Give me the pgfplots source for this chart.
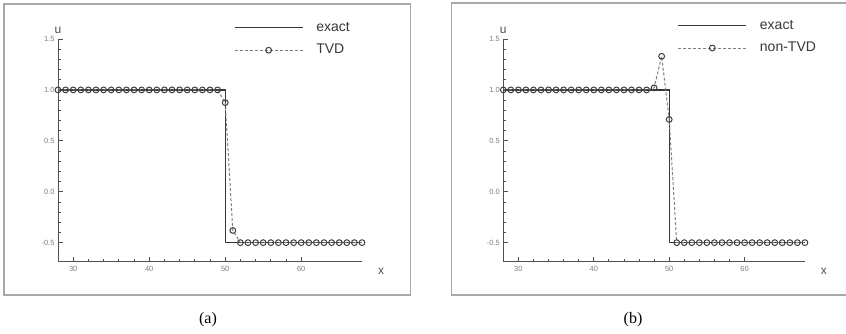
\documentclass[border=0pt]{standalone}
\usepackage{pgfplots}
\pgfplotsset{compat=1.18}
\usepackage{fontspec}
\setmainfont{Liberation Serif}
\newfontfamily\arial{Liberation Sans}

\definecolor{framec}{HTML}{A8A8A8}
\definecolor{axisc}{HTML}{505050}
\definecolor{exactc}{HTML}{383838}
\definecolor{numc}{HTML}{808080}
\definecolor{markc}{HTML}{404040}

% exact solution: the step
\pgfplotstableread{
x u
28 1.0
50 1.0
50 -0.5
68 -0.5
}\exact

% TVD scheme
\pgfplotstableread{
x u
28 1.0
29 1.0
30 1.0
31 1.0
32 1.0
33 1.0
34 1.0
35 1.0
36 1.0
37 1.0
38 1.0
39 1.0
40 1.0
41 1.0
42 1.0
43 1.0
44 1.0
45 1.0
46 1.0
47 1.0
48 1.0
49 1.0
50 0.875
51 -0.38
52 -0.5
53 -0.5
54 -0.5
55 -0.5
56 -0.5
57 -0.5
58 -0.5
59 -0.5
60 -0.5
61 -0.5
62 -0.5
63 -0.5
64 -0.5
65 -0.5
66 -0.5
67 -0.5
68 -0.5
}\tvd

% non-TVD scheme
\pgfplotstableread{
x u
28 1.0
29 1.0
30 1.0
31 1.0
32 1.0
33 1.0
34 1.0
35 1.0
36 1.0
37 1.0
38 1.0
39 1.0
40 1.0
41 1.0
42 1.0
43 1.0
44 1.0
45 1.0
46 1.0
47 1.0
48 1.02
49 1.33
50 0.71
51 -0.5
52 -0.5
53 -0.5
54 -0.5
55 -0.5
56 -0.5
57 -0.5
58 -0.5
59 -0.5
60 -0.5
61 -0.5
62 -0.5
63 -0.5
64 -0.5
65 -0.5
66 -0.5
67 -0.5
68 -0.5
}\nontvd

\pgfplotsset{
  panel/.style={
    scale only axis, anchor=south west,
    height=223pt,
    xmin=28, xmax=68, ymin=-0.69, ymax=1.5,
    axis x line*=bottom, axis y line*=left,
    axis line style={-, color=axisc, line width=1pt},
    xtick={30,40,50,60}, ytick={-0.5,0,0.5,1,1.5},
    minor x tick num=4, minor y tick num=4,
    tick align=inside, major tick length=4.5pt, minor tick length=2.5pt,
    tick style={color=axisc, line width=0.8pt},
    /pgf/number format/assume math mode=true,
    yticklabel style={/pgf/number format/.cd, fixed, fixed zerofill, precision=1},
    tick label style={font=\arial\fontsize{7.5}{8}\selectfont, color=numc},
    xticklabel style={yshift=-1pt},
    xlabel={x}, ylabel={u},
    every axis y label/.style={at={(axis description cs:0,1)}, anchor=south, yshift=2pt,
      font=\arial\fontsize{12}{13}\selectfont, color=axisc},
    every axis x label/.style={at={(axis description cs:1,0)}, anchor=center, xshift=19pt, yshift=-9pt,
      font=\arial\fontsize{12}{13}\selectfont, color=axisc},
    clip=false,
    legend cell align=left,
    legend image code/.code={
      \draw[mark repeat=2, mark phase=2, #1] plot coordinates {(0pt,0pt) (34pt,0pt) (68pt,0pt)};},
    legend style={draw=none, fill=none, inner sep=0pt, outer sep=0pt,
      font=\arial\fontsize{14}{15}\selectfont, text=exactc,
      row sep=9.5pt,
      nodes={inner sep=0pt, text height=10pt, text depth=3pt},
      /tikz/every odd column/.append style={column sep=13pt},
      at={(axis description cs:0.579,1)}, anchor=west},
  },
  exactline/.style={color=exactc, line width=1.3pt, mark=none},
  schemeline/.style={color=numc, line width=1pt, dash pattern=on 3pt off 2pt,
    mark=o, mark size=2.9pt, mark options={solid, color=markc, fill=white, line width=1pt}},
}

\begin{document}
\begin{tikzpicture}
\useasboundingbox (0,0) rectangle (846pt,334pt);
\fill[white] (0,0) rectangle (846pt,334pt);
% frames round the two panels
\draw[framec, line width=1.5pt] (4pt,39pt) rectangle (410.5pt,330pt);
\draw[framec, line width=1.5pt] (848pt,39pt) -- (451.7pt,39pt) -- (451.7pt,331pt) -- (848pt,331pt);

\begin{axis}[panel, at={(58pt,72pt)}, width=304pt]
\addplot[exactline] table {\exact};
\addlegendentry{exact}
\addplot[schemeline] table {\tvd};
\addlegendentry{TVD}
\end{axis}

\begin{axis}[panel, at={(503.3pt,72pt)}, width=301.6pt,
  legend style={at={(axis description cs:0.578,1.01)}}]
\addplot[exactline] table {\exact};
\addlegendentry{exact}
\addplot[schemeline] table {\nontvd};
\addlegendentry{non-TVD}
\end{axis}

\node[font=\fontsize{16}{18}\selectfont] at (208pt,14pt) {(a)};
\node[font=\fontsize{16}{18}\selectfont] at (633pt,14pt) {(b)};
\end{tikzpicture}
\end{document}
